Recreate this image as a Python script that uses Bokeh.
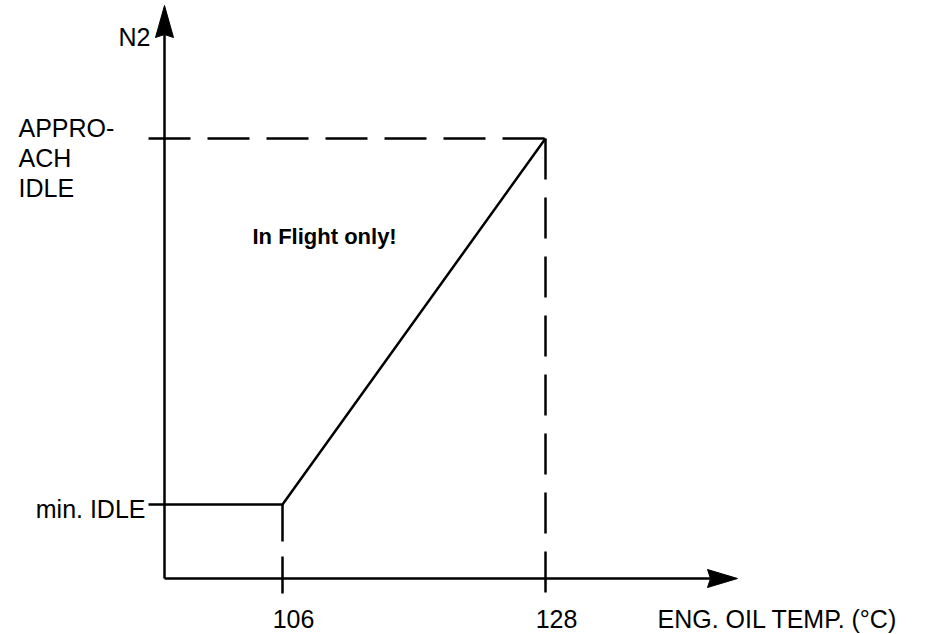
from bokeh.plotting import figure
from bokeh.models import Range1d
from bokeh.core.properties import value
from bokeh.embed import file_html
from bokeh.resources import INLINE

# ---- data -------------------------------------------------------------
temp_ticks = [106, 128]                 # engine oil temperature knee points (°C)
temp_tick_labels = ["106", "128"]
n2_levels = [1.0, 2.0]                  # min. IDLE, APPROACH IDLE (relative N2)
curve_temp = [106, 128]
curve_n2 = [1.0, 2.0]
x_title = "ENG. OIL TEMP. (°C)"
y_title = "N2"
min_label = "min. IDLE"
approach_label = ["APPRO-", "ACH", "IDLE"]
note = "In Flight only!"

# ---- layout helpers (pixel scale) ------------------------------------
W, H = 934, 634
PX_DEG = 263.0 / 22.0
PX_N2 = 366.0


def dx(px):
    return px / PX_DEG


def dy(px):
    return px / PX_N2


t0, t1 = temp_ticks
n_lo, n_hi = n2_levels
axis_x = t0 - dx(118)
axis_y = n_lo - dy(74)

p = figure(width=W, height=H, output_backend="svg", toolbar_location=None,
           x_range=Range1d(t0 - dx(282), t0 + dx(652)),
           y_range=Range1d(n_lo - dy(130), n_lo + dy(504)),
           min_border=0, x_axis_type=None, y_axis_type=None)
p.xgrid.visible = False
p.ygrid.visible = False
p.outline_line_color = None
p.background_fill_color = "white"
p.border_fill_color = "white"

LW = 2.5
# axes
p.line([axis_x, axis_x], [axis_y, n_lo + dy(470)], line_color="black", line_width=LW)
p.line([axis_x, t1 + dx(165)], [axis_y, axis_y], line_color="black", line_width=LW)
# arrow heads
ytip = n_lo + dy(499)
ybase = n_lo + dy(467)
p.patch([axis_x, axis_x + dx(9), axis_x, axis_x - dx(9)],
        [ytip, ybase, ybase + dy(3), ybase], color="black", line_width=1)
xtip = t1 + dx(192)
xbase = t1 + dx(162)
p.patch([xtip, xbase, xbase + dx(3), xbase],
        [axis_y, axis_y + dy(9), axis_y, axis_y - dy(9)], color="black", line_width=1)

# schedule curve
p.line([axis_x - dx(16)] + curve_temp[:1] + curve_temp, [curve_n2[0]] + curve_n2[:1] + curve_n2,
       line_color="black", line_width=LW)
# dashed guides
p.line([axis_x - dx(16), curve_temp[1]], [curve_n2[1], curve_n2[1]],
       line_color="black", line_width=LW, line_dash="42 17")
p.line([curve_temp[1], curve_temp[1]], [curve_n2[1], axis_y - dy(14)],
       line_color="black", line_width=LW, line_dash="41 18")
p.line([curve_temp[0], curve_temp[0]], [curve_n2[0], axis_y - dy(15)],
       line_color="black", line_width=LW, line_dash="37 15")

FONT = value("Liberation Sans")
FS = value("25px")
YO = -10
# tick labels
p.text(x=temp_ticks, y=[axis_y - dy(50)] * 2, text=temp_tick_labels, x_offset=11, y_offset=YO,
       text_align="center", text_baseline="alphabetic", text_font=FONT,
       text_font_size=FS, text_color="black")
p.text(x=[t1 + dx(112)], y=[axis_y - dy(50)], text=[x_title], text_align="left", y_offset=YO,
       text_baseline="alphabetic", text_font=FONT, text_font_size=FS, text_color="black")
p.text(x=[axis_x - dx(14)], y=[n_lo + dy(458)], text=[y_title], text_align="right", y_offset=YO,
       text_baseline="alphabetic", text_font=FONT, text_font_size=FS, text_color="black")
p.text(x=[axis_x - dx(19)], y=[n_lo - dy(14)], text=[min_label], text_align="right", y_offset=YO,
       text_baseline="alphabetic", text_font=FONT, text_font_size=FS, text_color="black")
p.text(x=[axis_x - dx(146)] * 3, y=[n_hi + dy(1), n_hi - dy(29), n_hi - dy(59)],
       text=approach_label, text_align="left", text_baseline="alphabetic", y_offset=YO,
       text_font=FONT, text_font_size=FS, text_color="black")
p.text(x=[t0 - dx(30)], y=[n_hi - dy(108)], text=[note], text_align="left", y_offset=YO,
       text_baseline="alphabetic", text_font=FONT, text_font_size=value("22px"),
       text_font_style="bold", text_color="black")

open("out.html", "w").write(file_html(p, INLINE))
